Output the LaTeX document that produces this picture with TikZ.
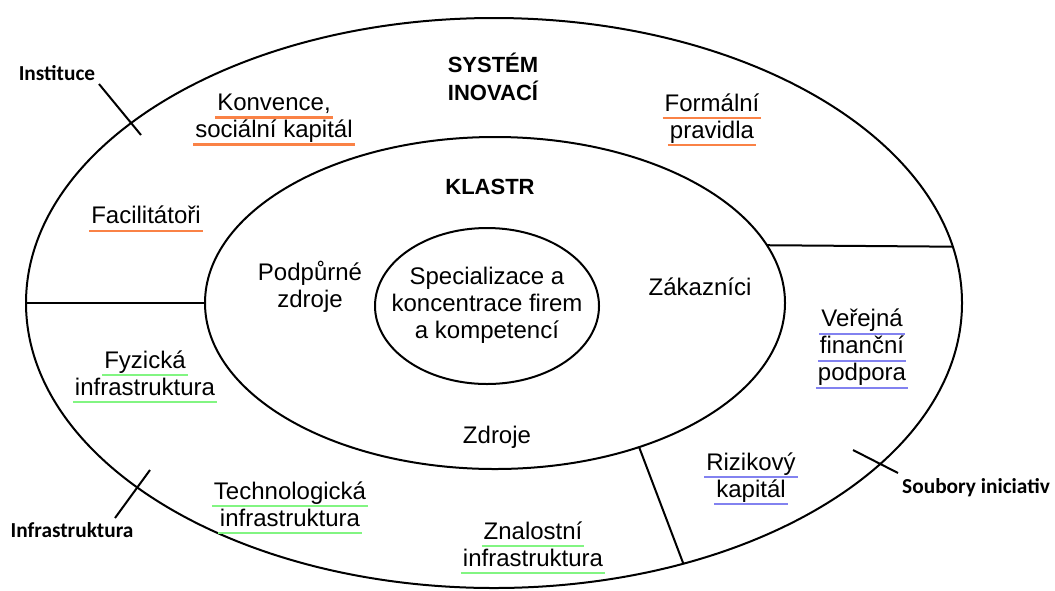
\documentclass[tikz,border=0pt]{standalone}
\usepackage{fontspec}
\setmainfont{Liberation Sans}
\newfontfamily\calib{Carlito}
\usetikzlibrary{shapes.geometric}
\definecolor{ulor}{RGB}{250,130,70}
\definecolor{ulgr}{RGB}{130,245,130}
\definecolor{ulbl}{RGB}{130,130,240}
\newsavebox\ulbox
\newcommand\cul[2]{\sbox\ulbox{#2}\rlap{\hspace*{-1.5pt}\textcolor{#1}{\rule[-6.2pt]{\dimexpr\wd\ulbox+3pt\relax}{1.8pt}}}\usebox\ulbox}
\begin{document}
\begin{tikzpicture}[x=0.75pt,y=-0.75pt, line width=1.5pt,
 lbl/.style={font=\fontsize{18pt}{20.25pt}\selectfont, align=center, inner sep=0},
 ttl/.style={font=\fontsize{16.5pt}{21pt}\selectfont\bfseries, align=center, inner sep=0},
 side/.style={font=\calib\fontsize{16pt}{18pt}\selectfont\bfseries, inner sep=0},
 ring/.style={draw, ellipse, inner sep=0, outer sep=0}]
\useasboundingbox (0,0) rectangle (1055,590);
\node[ring, minimum width=702pt, minimum height=427.5pt] (outer) at (494,303) {};
\node[ring, minimum width=435pt, minimum height=249pt] (mid) at (495,303) {};
\node[ring, minimum width=168pt, minimum height=117pt] (core) at (487,306) {};
\draw (outer.west) -- (mid.west);
\draw (mid.12.05) -- (outer.7.21);
\draw (mid.-45.8) -- (outer.-54.4);
% side labels with ticks
\node[side] (inst) at (57,73) {Instituce};
\coordinate (i1) at (99,84); \coordinate (i2) at (141,135);
\draw (i1) -- (i2);
\node[side] (infr) at (72,530) {Infrastruktura};
\coordinate (f1) at (150,470); \coordinate (f2) at (115,518);
\draw (f1) -- (f2);
\node[side] (soub) at (976,488) {Soubory iniciativ};
\coordinate (s1) at (853,450); \coordinate (s2) at (898,473);
\draw (s1) -- (s2);
% titles
\node[ttl] (sys) at (493,77) {SYSTÉM\\INOVACÍ};
\node[ttl] (klastr) at (490,187) {KLASTR};
% outer ring labels
\node[lbl] (konv) at (274,120) {\cul{ulor}{Konvence,}\\\cul{ulor}{sociální kapitál}};
\node[lbl] (form) at (712,120) {\cul{ulor}{Formální}\\\cul{ulor}{pravidla}};
\node[lbl] (faci) at (146,219) {\cul{ulor}{Facilitátoři}};
\node[lbl] (fyz) at (145,377) {\cul{ulgr}{Fyzická}\\\cul{ulgr}{infrastruktura}};
\node[lbl] (tech) at (290,508) {\cul{ulgr}{Technologická}\\\cul{ulgr}{infrastruktura}};
\node[lbl] (znal) at (533,548) {\cul{ulgr}{Znalostní}\\\cul{ulgr}{infrastruktura}};
\node[lbl] (verej) at (862,349) {\cul{ulbl}{Veřejná}\\\cul{ulbl}{finanční}\\\cul{ulbl}{podpora}};
\node[lbl] (riz) at (751,479) {\cul{ulbl}{Rizikový}\\\cul{ulbl}{kapitál}};
% middle ring labels
\node[lbl] (podp) at (310,287) {Podpůrné\\zdroje};
\node[lbl] (zak) at (700,287) {Zákazníci};
\node[lbl] (zdr) at (497,437) {Zdroje};
\node[lbl] (spec) at (487,305) {Specializace a\\koncentrace firem\\a kompetencí};
\end{tikzpicture}
\end{document}
